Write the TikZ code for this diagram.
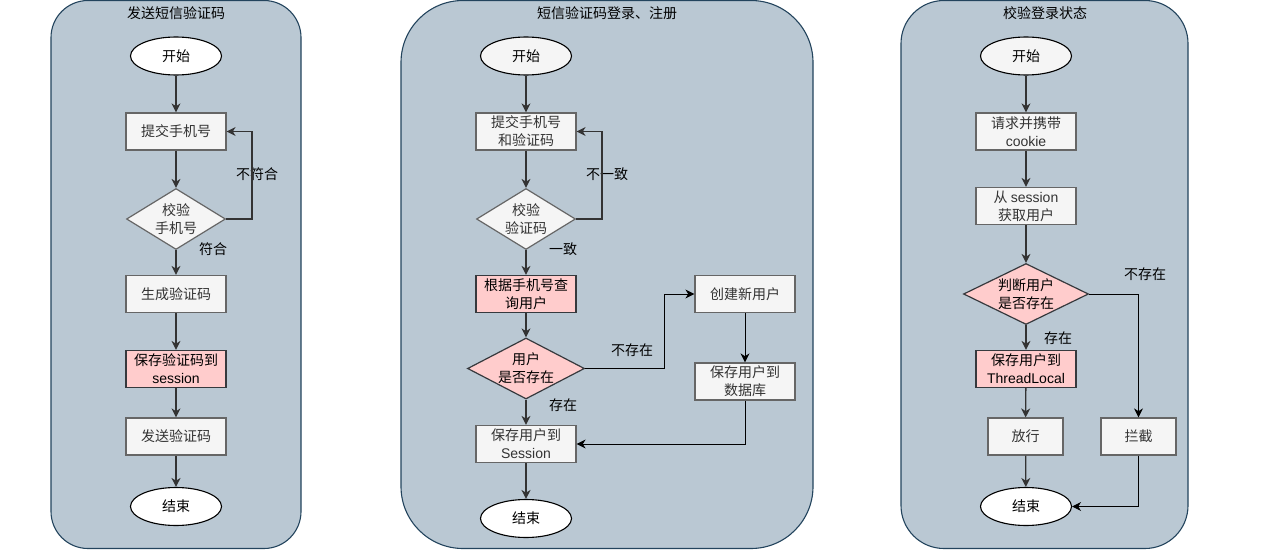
\documentclass[tikz,border=0pt]{standalone}
\usepackage{fontspec}
\setmainfont{Noto Sans CJK SC}
\newfontfamily\lat{Liberation Sans}
\usetikzlibrary{shapes.geometric,arrows.meta}
\definecolor{panelfill}{HTML}{BAC8D3}
\definecolor{paneldraw}{HTML}{23445D}
\definecolor{boxfill}{HTML}{F5F5F5}
\definecolor{boxdraw}{HTML}{666666}
\definecolor{boxtext}{HTML}{333333}
\definecolor{pinkfill}{HTML}{FFCCCC}
\definecolor{pinkdraw}{HTML}{36393D}
\definecolor{arrcol}{HTML}{333333}
\tikzset{
  panel/.style={draw=paneldraw,fill=panelfill,line width=1.1pt,inner sep=0pt},
  ttl/.style={font=\fontsize{14}{18}\selectfont,text=black,inner sep=0pt},
  gbox/.style={draw=boxdraw,fill=boxfill,line width=1.2pt,minimum width=100pt,minimum height=37pt,inner sep=0pt,align=center,text=boxtext,font=\fontsize{14}{18}\selectfont},
  pbox/.style={draw=pinkdraw,fill=pinkfill,line width=1.2pt,minimum width=100pt,minimum height=37pt,inner sep=0pt,align=center,text=black,font=\fontsize{14}{18}\selectfont},
  oval/.style={ellipse,draw=black,fill=white,line width=1.1pt,minimum width=91pt,minimum height=38pt,inner sep=0pt,font=\fontsize{14}{18}\selectfont},
  gdia/.style={diamond,draw=boxdraw,fill=boxfill,line width=1.2pt,inner sep=0pt},
  pdia/.style={diamond,draw=pinkdraw,fill=pinkfill,line width=1.2pt,inner sep=0pt},
  dtxt/.style={align=center,inner sep=0pt,font=\fontsize{14}{18}\selectfont},
  lbl/.style={inner sep=0pt,font=\fontsize{14}{18}\selectfont,text=black},
  arr/.style={draw=arrcol,line width=1.3pt,-{Stealth[length=9pt,width=9pt,inset=2.8pt]}},
  tarr/.style={draw=black,line width=0.9pt,-{Stealth[length=9pt,width=9pt,inset=2.8pt]}},
}
\begin{document}
\begin{tikzpicture}[x=1pt,y=-1pt]
\useasboundingbox (0,0) rectangle (1272,551);
\fill[white] (0,0) rectangle (1272,551);
% panels
\node[panel,rounded corners=37pt,minimum width=250pt,minimum height=548pt] (p1) at (176,274.5) {};
\node[panel,rounded corners=62pt,minimum width=412pt,minimum height=548pt] (p2) at (607,274.5) {};
\node[panel,rounded corners=43pt,minimum width=287pt,minimum height=548pt] (p3) at (1044.5,274.5) {};
\node[ttl] (t1) at (176,13) {发送短信验证码};
\node[ttl] (t2) at (607,13) {短信验证码登录、注册};
\node[ttl] (t3) at (1045,13) {校验登录状态};

% ---------- panel 1 ----------
\node[oval] (s1) at (176,56) {开始};
\node[gbox] (sub1) at (176,131.5) {提交手机号};
\node[gdia,minimum width=99pt,minimum height=61pt] (chk1) at (176,219) {};
\node[dtxt,text=boxtext] (chk1t) at (176,219) {校验\\手机号};
\node[gbox] (gen1) at (176,294) {生成验证码};
\node[pbox] (sav1) at (176,369) {保存验证码到\\{\lat session}};
\node[gbox] (snd1) at (176,436.5) {发送验证码};
\node[oval] (e1) at (176,506.5) {结束};
\node[lbl] (l1a) at (257,174) {不符合};
\node[lbl] (l1b) at (213,249) {符合};
\draw[arr] (s1) -- (sub1);
\draw[arr] (sub1) -- (chk1);
\draw[arr] (chk1.east) -- ++(26,0) |- (sub1.east);
\draw[arr] (chk1) -- (gen1);
\draw[arr] (gen1) -- (sav1);
\draw[arr] (sav1) -- (snd1);
\draw[arr] (snd1) -- (e1);

% ---------- panel 2 ----------
\node[oval,fill=boxfill] (s2) at (526,56) {开始};
\node[gbox] (sub2) at (526,131.5) {提交手机号\\和验证码};
\node[gdia,minimum width=99pt,minimum height=61pt] (chk2) at (526,219) {};
\node[dtxt,text=boxtext] (chk2t) at (526,219) {校验\\验证码};
\node[pbox] (qry2) at (526,294) {根据手机号查\\询用户};
\node[pdia,minimum width=117pt,minimum height=61pt] (ex2) at (526,368.5) {};
\node[dtxt] (ex2t) at (526,368.5) {用户\\是否存在};
\node[gbox] (ses2) at (526,444) {保存用户到\\{\lat Session}};
\node[oval] (e2) at (526,518.5) {结束};
\node[gbox] (new2) at (745,294) {创建新用户};
\node[gbox] (db2) at (745,381.5) {保存用户到\\数据库};
\node[lbl] (l2a) at (607,174) {不一致};
\node[lbl] (l2b) at (563,249) {一致};
\node[lbl] (l2c) at (632,350) {不存在};
\node[lbl] (l2d) at (563,405) {存在};
\draw[arr] (s2) -- (sub2);
\draw[arr] (sub2) -- (chk2);
\draw[arr] (chk2.east) -- ++(26,0) |- (sub2.east);
\draw[arr] (chk2) -- (qry2);
\draw[arr] (qry2) -- (ex2);
\draw[tarr] (ex2.east) -- ++(79,0) |- (new2.west);
\draw[arr] (ex2) -- (ses2);
\draw[tarr] (new2) -- (db2);
\draw[tarr] (db2.south) |- (ses2.east);
\draw[arr] (ses2) -- (e2);

% ---------- panel 3 ----------
\node[oval,fill=boxfill] (s3) at (1026,56) {开始};
\node[gbox] (req3) at (1026,131.5) {请求并携带\\{\lat cookie}};
\node[gbox] (get3) at (1026,206) {从 {\lat session}\\获取用户};
\node[pdia,minimum width=125pt,minimum height=61pt] (ex3) at (1026,294) {};
\node[dtxt] (ex3t) at (1026,294) {判断用户\\是否存在};
\node[pbox] (tl3) at (1026,369) {保存用户到\\{\lat ThreadLocal}};
\node[gbox,minimum width=75pt] (ok3) at (1025.5,436.5) {放行};
\node[gbox,minimum width=75pt] (blk3) at (1138.5,436.5) {拦截};
\node[oval] (e3) at (1026,506.5) {结束};
\node[lbl] (l3a) at (1145,274) {不存在};
\node[lbl] (l3b) at (1058,338) {存在};
\draw[arr] (s3) -- (req3);
\draw[arr] (req3) -- (get3);
\draw[arr] (get3) -- (ex3);
\draw[arr] (ex3) -- (tl3);
\draw[tarr] (ex3.east) -| (blk3.north);
\draw[arr] (tl3) -- (ok3);
\draw[arr] (ok3) -- (e3);
\draw[tarr] (blk3.south) |- (e3.east);
\end{tikzpicture}
\end{document}
